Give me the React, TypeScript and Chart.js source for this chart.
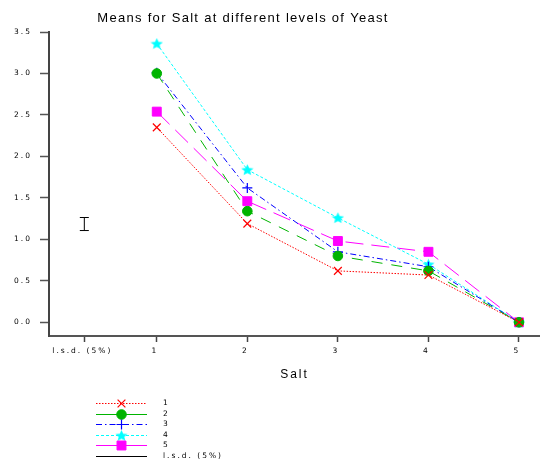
import React, { useEffect, useRef } from 'react';
import { Chart, registerables } from 'chart.js';
import { drawPoint } from 'chart.js/helpers';

Chart.register(...registerables);

// ---- data ----
const saltLevels = [1, 2, 3, 4, 5];
const yeast1 = [2.35, 1.19, 0.62, 0.57, 0.0];
const yeast2 = [3.0, 1.34, 0.8, 0.62, 0.0];
const yeast3 = [3.01, 1.62, 0.85, 0.67, 0.0];
const yeast4 = [3.36, 1.84, 1.26, 0.7, 0.0];
const yeast5 = [2.54, 1.46, 0.98, 0.85, 0.0];
const seriesNames = ['1', '2', '3', '4', '5'];
const lsdLabel = 'l.s.d. (5%)';
const lsdValue = 0.157;
const lsdCentre = 1.185;
const lsdPosition = 0.2;
const xTickValues = [0.2, 1, 2, 3, 4, 5];
const xTickLabels = ['l.s.d. (5%)', '1', '2', '3', '4', '5'];
const yTickValues = [0, 0.5, 1, 1.5, 2, 2.5, 3, 3.5];
const titleText = 'Means for Salt at different levels of Yeast';
const xTitle = 'Salt';

const FONT = '"Liberation Sans", Arial, sans-serif';
const SMALL_FONT = '"DejaVu Sans", Verdana, sans-serif';

function makeStar(color: string, w: number, h: number) {
  const c = document.createElement('canvas');
  c.width = w;
  c.height = h;
  const g = c.getContext('2d')!;
  const cx = w / 2;
  const cy = h / 2 + 0.5;
  const R = Math.min(w, h) / 2;
  const r = R * 0.45;
  g.beginPath();
  for (let i = 0; i < 10; i++) {
    const a = -Math.PI / 2 + (i * Math.PI) / 5;
    const rr = i % 2 === 0 ? R : r;
    const x = cx + rr * Math.cos(a) * (w / h);
    const y = cy + rr * Math.sin(a);
    if (i === 0) g.moveTo(x, y);
    else g.lineTo(x, y);
  }
  g.closePath();
  g.fillStyle = color;
  g.fill();
  return c;
}

export default function App() {
  const ref = useRef<HTMLCanvasElement>(null);

  useEffect(() => {
    const star = makeStar('#00ffff', 13, 12);
    const series = [yeast1, yeast2, yeast3, yeast4, yeast5];
    const styles: any[] = [
      { color: '#ff0000', dash: [1.5, 1.5], legendDash: [1.5, 1.5], pointStyle: 'crossRot', radius: 5.5, pbw: 1.2 },
      { color: '#00b400', dash: [11, 9], legendDash: [], pointStyle: 'circle', radius: 4.8, pbw: 1 },
      { color: '#0000ff', dash: [6, 3, 1.5, 3], legendDash: [6, 3, 1.5, 3], pointStyle: 'cross', radius: 5, pbw: 1.2 },
      { color: '#00ffff', dash: [3, 2], legendDash: [3, 2], pointStyle: star, radius: 6, pbw: 0 },
      { color: '#ff00ff', dash: [18, 8], legendDash: [], pointStyle: 'rect', radius: 6.3, pbw: 1 },
    ];

    const datasets: any[] = series.map((vals, i) => ({
      label: seriesNames[i],
      data: saltLevels.map((s, j) => ({ x: s, y: vals[j] })),
      borderColor: styles[i].color,
      borderWidth: 1,
      borderDash: styles[i].dash,
      pointStyle: styles[i].pointStyle,
      pointRadius: styles[i].radius,
      pointBorderWidth: styles[i].pbw,
      pointBorderColor: styles[i].color,
      pointBackgroundColor: styles[i].color,
      tension: 0,
      fill: false,
    }));

    datasets.push({
      label: lsdLabel,
      data: [
        { x: lsdPosition, y: lsdCentre - lsdValue / 2 },
        { x: lsdPosition, y: lsdCentre + lsdValue / 2 },
      ],
      borderColor: '#000000',
      borderWidth: 1,
      pointStyle: 'line',
      pointRadius: 4.5,
      pointBorderWidth: 1,
      pointBorderColor: '#000000',
      pointBackgroundColor: '#000000',
      fill: false,
    });

    const legendRows = [
      ...styles.map((s, i) => ({ ...s, label: seriesNames[i] })),
      { color: '#000000', legendDash: [], pointStyle: 'line', radius: 3, pbw: 1, label: lsdLabel },
    ];

    const decor = {
      id: 'decor',
      beforeDraw(chart: any) {
        (chart.ctx as any).letterSpacing = '2px';
      },
      afterDraw(chart: any) {
        const ctx = chart.ctx as any;
        ctx.save();
        // title
        ctx.letterSpacing = '1.3px';
        ctx.font = `13px ${FONT}`;
        ctx.fillStyle = '#000';
        ctx.textAlign = 'center';
        ctx.textBaseline = 'middle';
        ctx.fillText(titleText, 243, 18);
        // legend
        ctx.letterSpacing = '2px';
        ctx.font = `7.5px ${SMALL_FONT}`;
        ctx.textAlign = 'left';
        legendRows.forEach((r, i) => {
          const y = Math.round(403 + i * 10.5) + 0.5;
          ctx.strokeStyle = r.color;
          ctx.lineWidth = 1;
          ctx.setLineDash(r.legendDash);
          ctx.beginPath();
          ctx.moveTo(96, y);
          ctx.lineTo(147, y);
          ctx.stroke();
          ctx.setLineDash([]);
          ctx.fillStyle = r.color;
          ctx.strokeStyle = r.color;
          ctx.lineWidth = r.pbw || 1;
          drawPoint(ctx, { pointStyle: r.pointStyle, radius: r.radius, rotation: 0, borderWidth: r.pbw } as any, 121.5, y);
          ctx.fillStyle = '#000';
          ctx.fillText(r.label, 163, y);
        });
        ctx.restore();
        ctx.letterSpacing = '0px';
      },
    };

    const chart = new Chart(ref.current!, {
      type: 'line',
      data: { datasets },
      options: {
        responsive: false,
        animation: false,
        devicePixelRatio: 1,
        layout: { autoPadding: false, padding: { top: 32, left: 0, right: 0, bottom: 85 } },
        plugins: { legend: { display: false }, title: { display: false }, tooltip: { enabled: false } },
        scales: {
          x: {
            type: 'linear',
            min: -0.19,
            max: 5.232,
            afterBuildTicks(scale: any) {
              scale.ticks = xTickValues.map((v) => ({ value: v }));
            },
            afterFit(scale: any) {
              scale.height = 46;
              scale.paddingLeft = 0;
              scale.paddingRight = 0;
            },
            ticks: {
              autoSkip: false,
              maxRotation: 0,
              padding: 5,
              labelOffset: -2,
              color: '#000',
              font: { family: SMALL_FONT, size: 7.5 },
              callback: (v: any) => {
                const idx = xTickValues.indexOf(Number(v));
                return idx >= 0 ? xTickLabels[idx] : '';
              },
            },
            grid: { display: true, drawOnChartArea: false, drawTicks: true, tickLength: 6, tickColor: '#444', tickWidth: 1.5 },
            border: { display: true, color: '#555', width: 2 },
            title: { display: true, text: xTitle, color: '#000', font: { family: FONT, size: 12 }, padding: { top: 0, bottom: 0 } },
          },
          y: {
            type: 'linear',
            min: -0.165,
            max: 3.5,
            afterBuildTicks(scale: any) {
              scale.ticks = yTickValues.map((v) => ({ value: v }));
            },
            afterFit(scale: any) {
              scale.width = 49;
              scale.paddingTop = 0;
              scale.paddingBottom = 0;
            },
            ticks: {
              padding: 8,
              color: '#000',
              font: { family: SMALL_FONT, size: 7.5 },
              callback: (v: any) => Number(v).toFixed(1),
            },
            grid: { display: true, drawOnChartArea: false, drawTicks: true, tickLength: 9, tickColor: '#555', tickWidth: 1.5 },
            border: { display: true, color: '#444', width: 2 },
          },
        },
      },
      plugins: [decor],
    } as any);

    return () => chart.destroy();
  }, []);

  return (
    <div style={{ position: 'absolute', left: 0, top: 0, width: 540, height: 467, background: '#fff' }}>
      <canvas ref={ref} width={540} height={467} style={{ display: 'block' }} />
    </div>
  );
}
